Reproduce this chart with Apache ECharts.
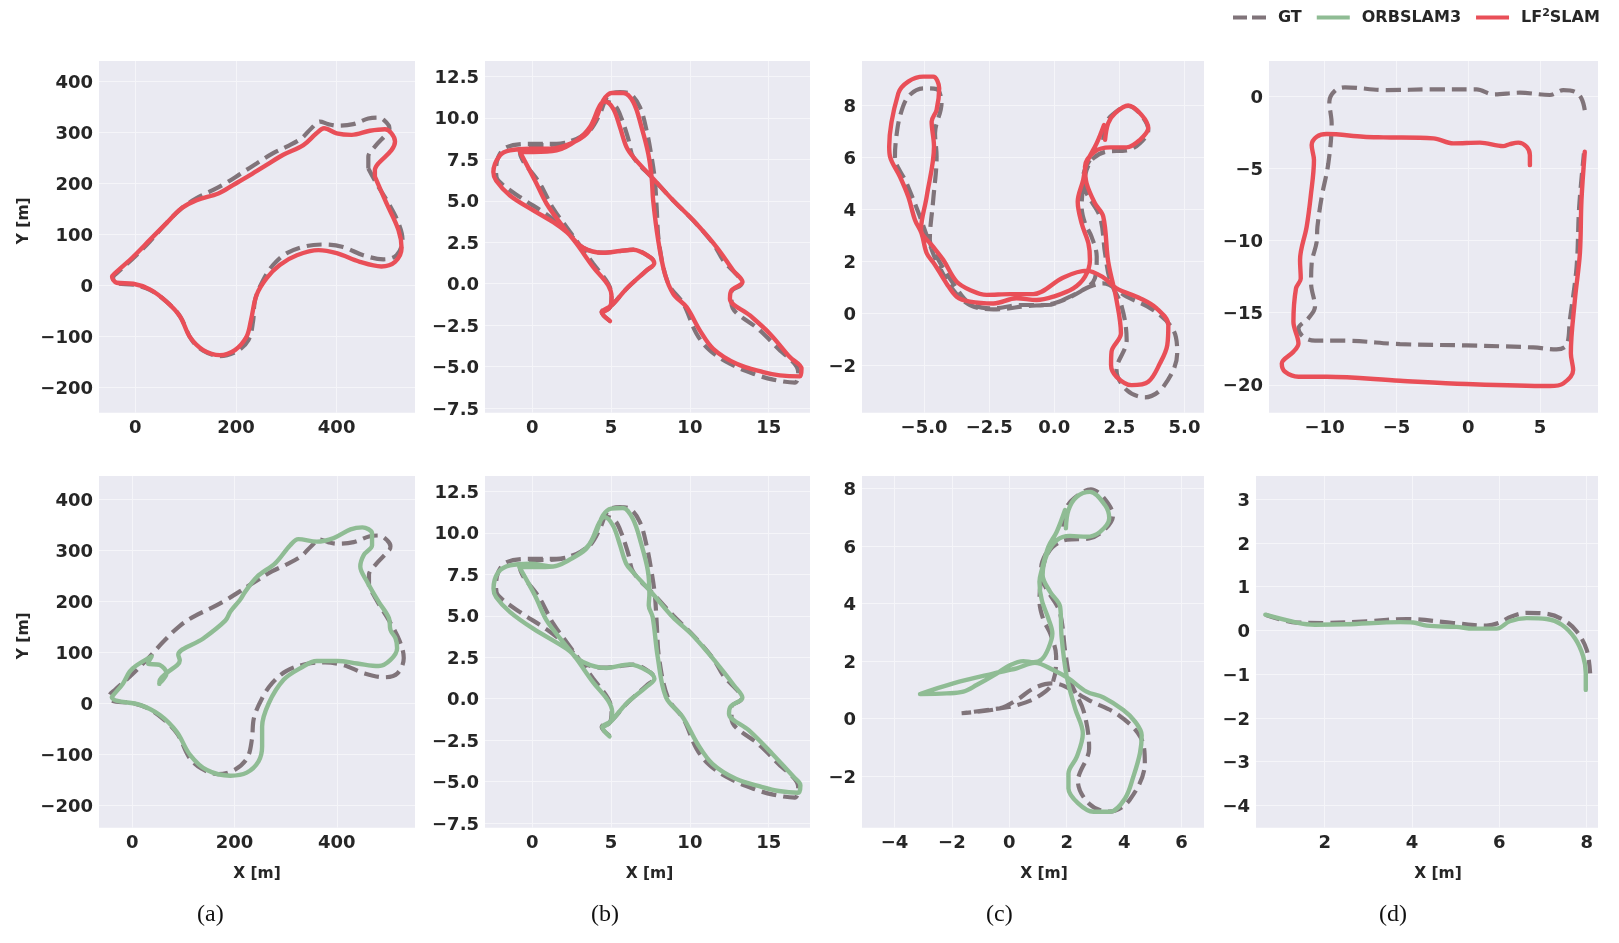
<!DOCTYPE html>
<html>
<head>
<meta charset="utf-8">
<style>
  html, body { margin: 0; padding: 0; background: #fff; }
  #chart { width: 1619px; height: 943px; }
</style>
<script src="https://cdn.jsdelivr.net/npm/echarts@6/dist/echarts.min.js"></script>
</head>
<body>
<div id="chart"></div>
<script>
/* ---------- trajectories [x, y] ---------- */
var gtA = [[463,229],[463,252],[476,272],[503,301],[505,308],[499,319],[483,329],[463,327],[433,316],[400,313],[383,316],[367,321],[350,308],[330,288],[301,272],[274,259],[241,239],[208,218],[181,201],[155,187],[122,171],[92,151],[62,122],[29,86],[-4,53],[-34,26],[-44,15],[-40,5],[-4,1],[29,-9],[62,-32],[89,-61],[112,-107],[135,-128],[168,-139],[201,-130],[225,-107],[234,-71],[238,-29],[254,10],[274,40],[301,63],[340,77],[377,80],[413,75],[453,59],[493,51],[519,59],[531,89],[523,122],[503,161],[479,200],[463,229]];
var lfA = [[476,213],[476,226],[483,239],[509,265],[516,282],[509,298],[496,306],[466,303],[430,295],[400,298],[375,308],[360,298],[334,275],[294,256],[261,236],[228,216],[195,197],[165,180],[122,167],[92,151],[62,122],[29,89],[-4,56],[-40,24],[-46,17],[-37,5],[-4,3],[29,-8],[62,-32],[89,-61],[109,-102],[135,-127],[168,-137],[198,-127],[221,-101],[230,-68],[241,-19],[261,14],[287,40],[321,59],[364,69],[400,63],[446,46],[489,37],[516,46],[529,73],[523,108],[499,161],[476,213]];
var orbA = [[53,39],[67,59],[54,75],[31,78],[38,92],[8,74],[-5,62],[-18,39],[-37,16],[-40,12],[-31,5],[15,-3],[54,-23],[87,-56],[113,-101],[146,-131],[192,-142],[224,-136],[247,-114],[254,-85],[254,-46],[267,0],[296,46],[329,69],[361,83],[401,83],[440,78],[482,73],[505,85],[518,108],[515,127],[505,144],[502,167],[482,199],[459,239],[446,268],[453,291],[469,310],[469,333],[450,345],[427,341],[394,324],[361,317],[325,322],[309,310],[280,275],[244,248],[221,219],[211,203],[192,180],[182,162],[139,127],[90,95],[93,84],[67,59],[54,46],[53,38]];

var gtB = [[4.93,-2.25],[4.4,-1.71],[5.03,-1.31],[5.98,-0.3],[7.25,0.8],[7.74,1.24],[7.46,1.61],[6.41,2.05],[5.56,1.97],[4.5,1.87],[3.23,2.17],[2.18,3.21],[0.91,4.18],[-0.78,5.22],[-2.16,6.22],[-2.3,6.73],[-2.16,7.63],[-1.63,8.23],[-0.15,8.43],[1.54,8.43],[2.81,8.73],[3.66,9.24],[4.29,10.24],[4.82,11.35],[5.56,11.55],[6.19,11.45],[6.83,10.64],[7.25,9.24],[7.57,7.63],[7.78,6.22],[7.89,4.62],[8.05,2.41],[8.63,0],[9.58,-1.2],[10.42,-3.01],[11.27,-4.02],[12.54,-4.82],[14.02,-5.42],[15.29,-5.78],[16.66,-5.96],[16.87,-5.32],[15.5,-3.82],[14.44,-2.81],[12.64,-1.2],[12.64,-0.5],[13.28,0],[12.11,1.41],[11.48,2.41],[10.21,3.82],[8.94,5.02],[7.67,6.33],[6.41,7.63],[6.09,8.73],[5.67,9.94],[5.24,10.74],[4.61,10.98],[4.29,10.54],[3.66,9.34],[2.81,8.73],[1.54,8.39],[0.06,8.33],[-0.78,7.93],[0.49,6.02],[1.33,4.52],[2.18,3.41],[3.02,2.31],[3.87,1.2],[4.82,0],[5.03,-0.8],[4.93,-1.41],[4.46,-1.71]];
var lfB = [[4.93,-2.25],[4.4,-1.71],[5.03,-1.31],[5.98,-0.3],[7.25,0.8],[7.74,1.24],[7.46,1.61],[6.41,2.05],[5.56,1.97],[4.5,1.87],[3.23,2.17],[2.18,3.11],[1.33,3.71],[0.06,4.42],[-1.42,5.32],[-2.3,6.22],[-2.47,6.73],[-2.05,7.73],[-1.42,8.03],[-0.15,8.13],[1.12,8.13],[2.39,8.43],[3.45,9.04],[4.08,10.04],[4.5,11.04],[5.03,11.49],[5.77,11.49],[6.41,10.94],[6.93,9.44],[7.36,7.83],[7.57,6.43],[7.67,5.02],[7.99,2.61],[8.41,0.6],[8.94,-0.6],[9.79,-1.41],[10.63,-2.81],[11.48,-3.92],[12.96,-4.82],[14.65,-5.32],[15.71,-5.52],[16.98,-5.58],[17.08,-5.12],[16.34,-4.42],[15.07,-3.01],[13.81,-1.91],[12.54,-0.9],[12.64,-0.4],[13.34,0.1],[12.75,0.8],[11.69,2.21],[10.21,3.82],[8.94,5.02],[7.57,6.43],[6.41,7.63],[5.98,8.23],[5.56,9.44],[5.14,10.54],[4.61,10.98],[4.29,10.74],[3.66,9.44],[2.81,8.63],[1.54,8.03],[0.06,7.93],[-0.78,7.93],[0.17,6.22],[0.91,4.82],[1.97,3.41],[2.81,2.41],[3.87,1],[4.82,-0.1],[5.03,-0.8],[4.93,-1.41],[4.46,-1.71]];
var orbB = [[4.9,-2.27],[4.44,-1.71],[5.01,-1.35],[5.96,-0.3],[7.22,0.7],[7.75,1.2],[7.43,1.61],[6.17,2.07],[4.69,1.85],[3.22,2.21],[2.17,3.01],[0.06,4.22],[-1.41,5.22],[-2.29,6.12],[-2.46,6.63],[-2.15,7.63],[-1.41,8.03],[-0.15,8.13],[1.33,7.97],[2.38,8.39],[3.43,9.04],[4.06,10.04],[4.48,11.04],[5.01,11.45],[5.75,11.49],[6.38,10.84],[6.91,9.34],[7.33,7.73],[7.43,6.33],[7.39,5.62],[7.64,4.92],[7.96,2.51],[8.48,0.1],[9.54,-1.1],[10.48,-2.71],[11.43,-3.92],[12.91,-4.82],[14.59,-5.32],[15.64,-5.56],[16.86,-5.66],[17.01,-5.22],[16.59,-4.72],[15.22,-3.31],[13.75,-1.91],[12.48,-0.9],[12.59,-0.46],[13.33,0.06],[12.8,0.8],[11.64,2.21],[10.17,3.82],[8.91,4.92],[7.54,6.43],[6.38,7.63],[5.96,8.13],[5.54,9.34],[5.12,10.44],[4.59,10.94],[4.27,10.64],[3.64,9.34],[2.8,8.63],[1.33,7.97],[0.06,7.93],[-0.82,7.93],[0.17,6.22],[0.91,4.72],[1.96,3.41],[2.8,2.41],[3.85,1],[4.8,-0.1],[5.07,-0.8],[4.95,-1.41],[4.44,-1.71]];

var gtC = [[1.88,6.67],[1.98,7.31],[2.27,7.67],[2.84,7.97],[3.29,7.67],[3.61,7.05],[3.29,6.54],[2.78,6.26],[2.01,6.22],[1.5,5.96],[1.24,5.51],[1.11,4.87],[1.05,4.1],[1.18,3.46],[1.43,2.95],[1.63,2.18],[1.56,1.35],[0.99,0.83],[-0.04,0.38],[-1.06,0.28],[-2.34,0.15],[-3.24,0.32],[-3.88,0.9],[-4.52,1.99],[-4.84,2.82],[-5.16,3.72],[-5.67,5],[-6.12,6.03],[-6.08,6.67],[-5.93,7.56],[-5.61,8.33],[-5.03,8.65],[-4.52,8.62],[-4.33,8.08],[-4.58,6.92],[-4.52,6.03],[-4.65,4.36],[-4.78,2.82],[-4.52,2.18],[-3.88,1.15],[-3.24,0.38],[-2.34,0.19],[-1.32,0.32],[-0.29,0.32],[0.6,0.64],[1.37,1.03],[1.88,1.15],[2.78,0.64],[3.8,0.13],[4.57,-0.64],[4.72,-1.54],[4.19,-2.82],[3.48,-3.23],[2.78,-2.95],[2.39,-2.18],[2.78,-1.03],[2.59,0.26],[2.14,1.28],[1.95,2.31],[1.75,3.72],[1.24,4.62],[1.11,5.26],[1.37,5.9]];
var lfC = [[1.91,7.24],[1.63,6.54],[1.24,5.77],[1.11,5.13],[0.9,4.29],[1.05,3.46],[1.31,2.69],[1.37,2.05],[1.18,1.41],[0.73,0.96],[-0.04,0.64],[-0.68,0.51],[-1.45,0.58],[-2.34,0.38],[-3.24,0.45],[-3.75,0.64],[-4.14,1.15],[-4.58,1.86],[-4.9,2.31],[-5.1,3.08],[-5.35,3.59],[-5.61,4.49],[-5.93,5.26],[-6.31,6.03],[-6.34,6.41],[-5.99,8.46],[-5.61,8.91],[-5.03,9.1],[-4.65,9.1],[-4.42,8.65],[-4.52,7.82],[-4.71,7.37],[-4.62,6.41],[-4.9,4.49],[-5.12,3.21],[-4.65,2.56],[-4.26,2.05],[-3.75,1.22],[-3.24,0.9],[-2.6,0.71],[-1.7,0.74],[-0.81,0.74],[0.35,1.38],[1.24,1.64],[1.88,1.38],[2.39,0.96],[3.29,0.58],[3.93,0.19],[4.38,-0.45],[4.34,-1.22],[4.06,-1.92],[3.61,-2.63],[2.97,-2.76],[2.39,-2.44],[2.18,-1.99],[2.2,-1.47],[2.56,-0.77],[2.39,0.51],[2.07,1.99],[1.88,3.72],[1.56,4.23],[1.24,5],[1.18,5.64],[1.56,6.22],[2.14,6.38],[2.78,6.38],[3.29,6.67],[3.61,7.12],[3.35,7.63],[2.84,7.99],[2.33,7.69],[2.07,7.31],[1.95,6.67]];
var gtC2 = [[1.88,6.67],[1.98,7.31],[2.27,7.67],[2.84,7.97],[3.29,7.67],[3.61,7.05],[3.29,6.54],[2.78,6.26],[2.01,6.22],[1.5,5.96],[1.24,5.51],[1.11,4.87],[1.05,4.1],[1.18,3.46],[1.43,2.95],[1.63,2.18],[1.5,1.23],[0.99,0.76],[0.26,0.47],[-0.33,0.36],[-1.66,0.19],[-0.33,0.36],[0.26,0.65],[0.84,1.05],[1.47,1.23],[1.88,1.15],[2.78,0.64],[3.8,0.13],[4.57,-0.64],[4.72,-1.54],[4.19,-2.82],[3.48,-3.23],[2.78,-2.95],[2.39,-2.18],[2.78,-1.03],[2.59,0.26],[2.14,1.28],[1.95,2.31],[1.75,3.72],[1.24,4.62],[1.11,5.26],[1.37,5.9]];
var orbC = [[1.94,7.25],[1.65,6.49],[1.36,5.97],[1.13,5.16],[1.05,4.76],[1.13,4.12],[1.36,3.48],[1.5,2.96],[1.36,2.44],[1.13,2.06],[0.84,1.96],[0.49,2],[0.02,1.86],[-0.44,1.57],[-1.14,1.17],[-1.6,0.94],[-2.18,0.88],[-3.11,0.86],[-1.95,1.23],[-0.56,1.57],[0.26,1.75],[0.89,1.94],[1.53,1.69],[2.06,1.4],[2.69,0.94],[3.28,0.74],[3.97,0.3],[4.38,-0.1],[4.61,-0.57],[4.55,-1.2],[4.32,-2.01],[4.03,-2.77],[3.51,-3.23],[2.93,-3.23],[2.4,-2.94],[2.06,-2.42],[2.06,-1.9],[2.35,-1.32],[2.56,-0.51],[2.29,0.36],[2,1.46],[1.82,2.85],[1.77,3.89],[1.42,4.41],[1.16,4.99],[1.3,5.68],[1.65,6.2],[2.11,6.35],[2.69,6.32],[3.16,6.49],[3.48,6.96],[3.33,7.42],[2.81,7.88],[2.35,7.71],[2.06,7.25],[1.97,6.61]];

var gtD = [[8.11,-0.93],[7.88,-0.12],[7.42,0.35],[6.61,0.46],[5.68,0.12],[3.59,0.28],[1.74,0.16],[0.58,0.51],[-2.43,0.51],[-5.68,0.46],[-8.58,0.65],[-9.27,0.42],[-9.67,-0.35],[-9.51,-1.85],[-9.74,-4.63],[-10.2,-6.94],[-10.5,-9.03],[-10.55,-10.07],[-10.9,-11.57],[-10.94,-12.96],[-10.67,-14.58],[-11.13,-15.39],[-11.82,-16.09],[-11.48,-16.67],[-10.67,-16.94],[-8.69,-16.94],[-4.75,-17.18],[-0.12,-17.27],[4.52,-17.41],[6.14,-17.55],[6.84,-17.25],[7.07,-15.51],[7.54,-11.81],[7.72,-7.64],[8.05,-3.94]];
var lfD = [[4.29,-4.75],[4.29,-4.05],[4.06,-3.47],[3.48,-3.19],[2.9,-3.29],[2.43,-3.43],[0.81,-3.19],[-1.04,-3.24],[-2.43,-2.89],[-5.91,-2.82],[-7.3,-2.78],[-9.85,-2.59],[-10.55,-2.78],[-10.9,-3.36],[-10.74,-4.4],[-10.97,-6.94],[-11.25,-9.03],[-11.71,-11.34],[-11.66,-12.62],[-11.99,-13.31],[-12.17,-15.63],[-11.82,-17.13],[-12.17,-17.71],[-12.98,-18.52],[-12.75,-19.1],[-11.82,-19.44],[-9.85,-19.44],[-4.75,-19.72],[-0.12,-19.95],[5.68,-20.09],[6.61,-19.91],[7.3,-18.98],[7.14,-17.82],[7.42,-14.12],[7.77,-10.88],[7.88,-7.18],[8.11,-3.82]];
var gtD2 = [[0.64,0.36],[1.36,0.18],[2,0.17],[2.96,0.21],[3.88,0.26],[4.95,0.17],[5.71,0.11],[5.98,0.17],[6.28,0.32],[6.63,0.4],[7.08,0.38],[7.47,0.24],[7.77,-0.02],[8,-0.44],[8.08,-0.98]];
var orbD = [[0.64,0.36],[1.36,0.18],[1.78,0.13],[2.5,0.14],[3.73,0.19],[4.03,0.18],[4.34,0.11],[5.02,0.08],[5.4,0.04],[5.94,0.04],[6.24,0.21],[6.63,0.28],[7.08,0.26],[7.43,0.13],[7.73,-0.18],[7.92,-0.59],[7.98,-0.98],[7.98,-1.36]];

/* ---------- tick labels ---------- */
var ticksAx = [0, 200, 400];
var ticksAy = [-200, -100, 0, 100, 200, 300, 400];
var ticksBx = [0, 5, 10, 15];
var ticksBy = [-7.5, -5, -2.5, 0, 2.5, 5, 7.5, 10, 12.5];
var ticksCx = [-5, -2.5, 0, 2.5, 5];
var ticksCy = [-2, 0, 2, 4, 6, 8];
var ticksCx2 = [-4, -2, 0, 2, 4, 6];
var ticksDx = [-10, -5, 0, 5];
var ticksDy = [-20, -15, -10, -5, 0];
var ticksDx2 = [2, 4, 6, 8];
var ticksDy2 = [-4, -3, -2, -1, 0, 1, 2, 3];

var captions = ['(a)', '(b)', '(c)', '(d)'];
var NAME_GT = 'GT', NAME_ORB = 'ORBSLAM3', NAME_LF = 'LF2SLAM';

/* ---------- panels ---------- */
var TOP_Y = 61, BOT_Y = 476, PANEL_H = 351.7;
var panels = [
    { l: 99,   w: 316, t: TOP_Y, x: [-72, 555.7],    y: [-249.8, 439.8], tx: ticksAx,  ty: ticksAy,  dx: 0, dy: 0, gt: gtA, est: lfA, nm: NAME_LF, yName: true },
    { l: 485,  w: 325, t: TOP_Y, x: [-3, 17.62],     y: [-7.77, 13.42],  tx: ticksBx,  ty: ticksBy,  dx: 0, dy: 1, gt: gtB, est: lfB, nm: NAME_LF },
    { l: 862,  w: 342, t: TOP_Y, x: [-7.385, 5.75],  y: [-3.82, 9.7],    tx: ticksCx,  ty: ticksCy,  dx: 1, dy: 0, gt: gtC, est: lfC, nm: NAME_LF },
    { l: 1269, w: 329, t: TOP_Y, x: [-13.87, 9.03],  y: [-21.94, 2.48],  tx: ticksDx,  ty: ticksDy,  dx: 0, dy: 0, gt: gtD, est: lfD, nm: NAME_LF },
    { l: 99,   w: 316, t: BOT_Y, x: [-65, 553],      y: [-244, 445.7],   tx: ticksAx,  ty: ticksAy,  dx: 0, dy: 0, gt: gtA, est: orbA, nm: NAME_ORB, yName: true, xName: 0 },
    { l: 485,  w: 325, t: BOT_Y, x: [-3, 17.62],     y: [-7.77, 13.42],  tx: ticksBx,  ty: ticksBy,  dx: 0, dy: 1, gt: gtB, est: orbB, nm: NAME_ORB, xName: 4 },
    { l: 862,  w: 342, t: BOT_Y, x: [-5.13, 6.78],   y: [-3.785, 8.43],  tx: ticksCx2, ty: ticksCy,  dx: 0, dy: 0, gt: gtC2, est: orbC, nm: NAME_ORB, xName: 22 },
    { l: 1256, w: 342, t: BOT_Y, x: [0.427, 8.26],   y: [-4.51, 3.53],   tx: ticksDx2, ty: ticksDy2, dx: 0, dy: 0, gt: gtD2, est: orbD, nm: NAME_ORB, xName: 22 }
];
var captionX = [211, 605, 1000, 1393];

var TEXT = '#262626', GRID_BG = '#eaeaf2';
var COLOR_GT = '#80747a', COLOR_ORB = '#8fbc94', COLOR_LF = '#e94f58';
var LABEL_FONT = { color: TEXT, fontFamily: 'DejaVu Sans', fontWeight: 'bold', fontSize: 18 };
var NAME_FONT = { color: TEXT, fontFamily: 'DejaVu Sans', fontWeight: 'bold', fontSize: 15.5 };

function tickLabel(decimals, side) {
    return function (v) {
        var s = Number(v).toFixed(decimals).replace('-', '\u2212');
        return side === 'x' ? s : '{v|' + s + '}';
    };
}

function makeAxis(range, ticks, decimals, side) {
    return {
        type: 'value',
        min: range[0],
        max: range[1],
        scale: true,
        axisLine: { show: false },
        axisTick: { show: false, customValues: ticks },
        axisLabel: Object.assign({
            customValues: ticks,
            margin: side === 'x' ? 7 : 6,
            formatter: tickLabel(decimals, side),
            // y labels sit a little below their grid line in the reference
            rich: { v: Object.assign({ padding: [4, 0, 0, 0] }, LABEL_FONT) }
        }, LABEL_FONT),
        splitLine: { show: true, lineStyle: { color: '#f5f5f9', width: 1 } }
    };
}

var grids = [], xAxes = [], yAxes = [], series = [];
panels.forEach(function (p, i) {
    grids.push({ left: p.l, top: p.t, width: p.w, height: PANEL_H, show: true, backgroundColor: GRID_BG, borderWidth: 0 });

    var xa = makeAxis(p.x, p.tx, p.dx, 'x');
    xa.gridIndex = i;
    if (p.xName !== undefined) {
        xa.name = 'X [m]';
        xa.nameLocation = 'middle';
        xa.nameGap = 38;
        xa.nameTextStyle = Object.assign({ padding: [0, 0, 0, p.xName] }, NAME_FONT);
    }
    xAxes.push(xa);

    var ya = makeAxis(p.y, p.ty, p.dy, 'y');
    ya.gridIndex = i;
    if (p.yName) {
        ya.name = 'Y [m]';
        ya.nameLocation = 'middle';
        ya.nameGap = 67;
        ya.nameTextStyle = Object.assign({ padding: [0, 0, 0, 32] }, NAME_FONT);
    }
    yAxes.push(ya);

    var estColor = p.nm === NAME_LF ? COLOR_LF : COLOR_ORB;
    series.push({
        name: NAME_GT, type: 'line', xAxisIndex: i, yAxisIndex: i, data: p.gt,
        symbol: 'none', smooth: 0.35, animation: false,
        itemStyle: { color: COLOR_GT },
        lineStyle: { color: COLOR_GT, width: 4.2, type: [15, 7], cap: 'butt' }
    });
    series.push({
        name: p.nm, type: 'line', xAxisIndex: i, yAxisIndex: i, data: p.est,
        symbol: 'none', smooth: 0.35, animation: false,
        itemStyle: { color: estColor },
        lineStyle: { color: estColor, width: 4.4, cap: 'round', join: 'round' }
    });
});

/* legend keys drawn as paths so the dash survives */
var KEY_DASH = 'path://M0,0H14V4H0ZM19,0H33V4H19Z';
var KEY_LINE = 'path://M0,0H33V4H0Z';

var chart = echarts.init(document.getElementById('chart'), null, { renderer: 'canvas' });
chart.setOption({
    backgroundColor: '#ffffff',
    animation: false,
    grid: grids,
    xAxis: xAxes,
    yAxis: yAxes,
    series: series,
    legend: {
        data: [
            { name: NAME_GT, icon: KEY_DASH, itemStyle: { color: COLOR_GT } },
            { name: NAME_ORB, icon: KEY_LINE, itemStyle: { color: COLOR_ORB } },
            { name: NAME_LF, icon: KEY_LINE, itemStyle: { color: COLOR_LF } }
        ],
        left: 1233,
        top: 8,
        padding: 0,
        itemWidth: 33,
        itemHeight: 4,
        itemGap: 15,
        selectedMode: false,
        formatter: function (name) {
            return name === NAME_LF ? 'LF{sup|2}SLAM' : name;
        },
        textStyle: Object.assign({}, NAME_FONT, {
            fontSize: 16,
            padding: [0, 0, 0, 7],
            rich: { sup: { fontFamily: 'DejaVu Sans', fontWeight: 'bold', fontSize: 11, color: TEXT, padding: [0, 0, 8, 0] } }
        })
    },
    graphic: captions.map(function (c, i) {
        return {
            type: 'text', left: captionX[i] - 14, top: 903,
            style: { text: c, fontFamily: 'Liberation Serif', fontSize: 24, fill: '#111111' }
        };
    })
});
</script>
</body>
</html>
